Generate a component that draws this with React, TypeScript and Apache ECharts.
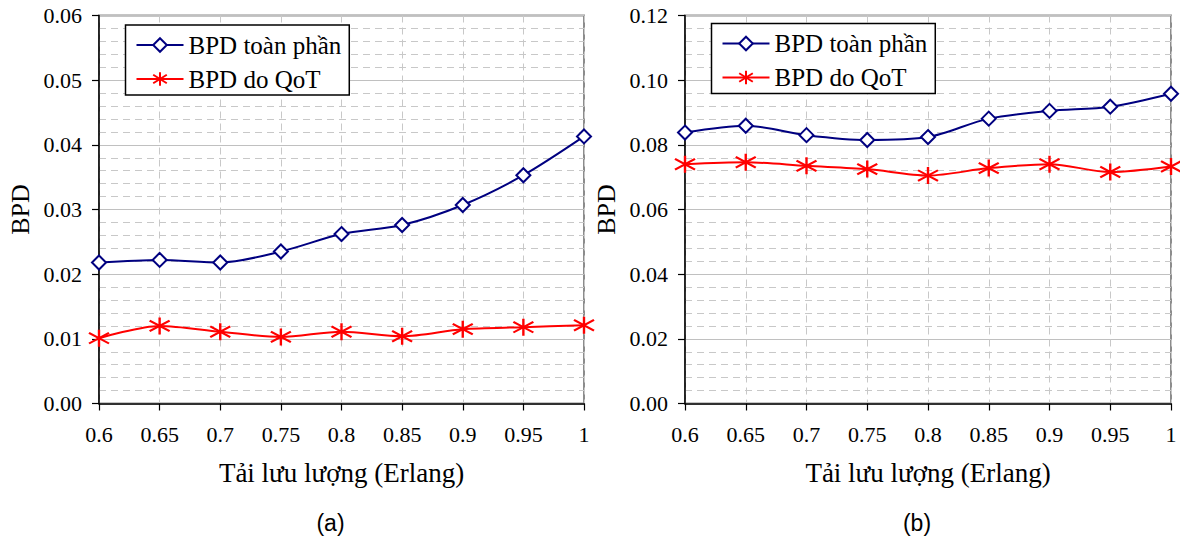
import React, { useEffect, useRef } from "react";
import * as echarts from "echarts";

const loads = ["0.6", "0.65", "0.7", "0.75", "0.8", "0.85", "0.9", "0.95", "1"];

const totalA = [0.0218, 0.0222, 0.0218, 0.0235, 0.0262, 0.0276, 0.0307, 0.0353, 0.0413];
const qotA = [0.0101, 0.012, 0.0111, 0.0103, 0.0111, 0.0104, 0.0115, 0.0118, 0.0121];

const totalB = [0.0838, 0.0859, 0.083, 0.0815, 0.0824, 0.0881, 0.0905, 0.0918, 0.0958];
const qotB = [0.074, 0.0746, 0.0735, 0.0725, 0.0705, 0.0728, 0.074, 0.0716, 0.0733];

const seriesNames = ["BPD toàn phần", "BPD do QoT"];
const xTitle = "Tải lưu lượng (Erlang)";
const yTitle = "BPD";
const panelLabels = ["(a)", "(b)"];

const SERIF = "Liberation Serif";
const SANS = "Liberation Sans";
const ASTERISK = "path://M8,0L8,16M0,3L16,13M0,13L16,3";

export default function App() {
  const ref = useRef<HTMLDivElement>(null);

  useEffect(() => {
    if (!ref.current) return;
    const chart = echarts.init(ref.current, undefined, { renderer: "svg" });

    const grids = [
      { left: 99, top: 15.5, width: 485, height: 388 },
      { left: 685, top: 15.5, width: 486, height: 388 },
    ];

    const labelStyle = { fontFamily: SERIF, fontSize: 22, color: "#000", fontWeight: "normal" };

    const xAxis = grids.map((_, i) => ({
      type: "category",
      gridIndex: i,
      data: loads,
      boundaryGap: false,
      name: xTitle,
      nameLocation: "middle",
      nameGap: 56,
      nameTextStyle: { fontFamily: SERIF, fontSize: 27, color: "#000" },
      axisLine: { show: true, lineStyle: { color: "#000", width: 1.5 } },
      axisTick: { show: true, inside: false, length: 7, lineStyle: { color: "#000", width: 1.2 } },
      axisLabel: { ...labelStyle, margin: 20 },
      splitLine: { show: true, lineStyle: { color: "#c8c8c8", width: 1, type: [7, 5] } },
    }));

    const yAxis = grids.map((_, i) => ({
      type: "value",
      gridIndex: i,
      min: 0,
      max: i === 0 ? 0.06 : 0.12,
      interval: i === 0 ? 0.01 : 0.02,
      name: yTitle,
      nameLocation: "middle",
      nameRotate: 90,
      nameGap: 66,
      nameTextStyle: { fontFamily: SERIF, fontSize: 26, color: "#000" },
      axisLine: { show: true, lineStyle: { color: "#000", width: 1.5 } },
      axisTick: { show: true, inside: false, length: 7, lineStyle: { color: "#000", width: 1.2 } },
      axisLabel: {
        ...labelStyle,
        margin: 17,
        formatter: (v: number) => v.toFixed(2),
      },
      splitLine: { show: true, lineStyle: { color: "#c0c0c0", width: 1.2 } },
      minorTick: { show: false, splitNumber: 5 },
      minorSplitLine: { show: true, lineStyle: { color: "#c8c8c8", width: 1, type: [7, 5] } },
    }));

    const mkSeries = (gi: number, total: number[], qot: number[]) => [
      {
        name: seriesNames[0],
        type: "line",
        xAxisIndex: gi,
        yAxisIndex: gi,
        data: total,
        smooth: 0.3,
        symbol: "diamond",
        symbolSize: [14, 14],
        lineStyle: { color: "#000080", width: 2 },
        itemStyle: { color: "#ffffff", borderColor: "#000080", borderWidth: 2 },
        z: 3,
      },
      {
        name: seriesNames[1],
        type: "line",
        xAxisIndex: gi,
        yAxisIndex: gi,
        data: qot,
        smooth: 0.3,
        symbol: ASTERISK,
        symbolSize: [20, 17],
        lineStyle: { color: "#ff0000", width: 2 },
        itemStyle: { color: "#ff0000", borderColor: "#ff0000", borderWidth: 2.2 },
        z: 3,
      },
    ];

    const legendBase = {
      orient: "vertical",
      data: seriesNames,
      itemWidth: 47,
      itemHeight: 17,
      itemGap: 6,
      padding: [6, 8, 2, 10],
      backgroundColor: "#ffffff",
      borderColor: "#000",
      borderWidth: 1.5,
      borderRadius: 0,
      selectedMode: false,
      textStyle: { fontFamily: SERIF, fontSize: 25, color: "#000", lineHeight: 28 },
    };

    chart.setOption({
      animation: false,
      backgroundColor: "#ffffff",
      textStyle: { fontFamily: SERIF, color: "#000" },
      grid: grids.map((g) => ({
        ...g,
        show: true,
        borderColor: "#8c8c8c",
        borderWidth: 2,
        backgroundColor: "transparent",
      })),
      xAxis,
      yAxis,
      legend: [
        { ...legendBase, left: 125.5, top: 25 },
        { ...legendBase, left: 711.5, top: 23.5 },
      ],
      series: [...mkSeries(0, totalA, qotA), ...mkSeries(1, totalB, qotB)],
      graphic: [
        {
          type: "text",
          x: 330.5,
          y: 523,
          style: {
            text: panelLabels[0],
            font: `23px ${SANS}`,
            fill: "#000",
            align: "center",
            verticalAlign: "middle",
          },
        },
        {
          type: "text",
          x: 917,
          y: 523,
          style: {
            text: panelLabels[1],
            font: `23px ${SANS}`,
            fill: "#000",
            align: "center",
            verticalAlign: "middle",
          },
        },
      ],
    });

    return () => chart.dispose();
  }, []);

  return (
    <div
      ref={ref}
      style={{ position: "absolute", left: 0, top: 0, width: 1180, height: 538, background: "#fff" }}
    />
  );
}
